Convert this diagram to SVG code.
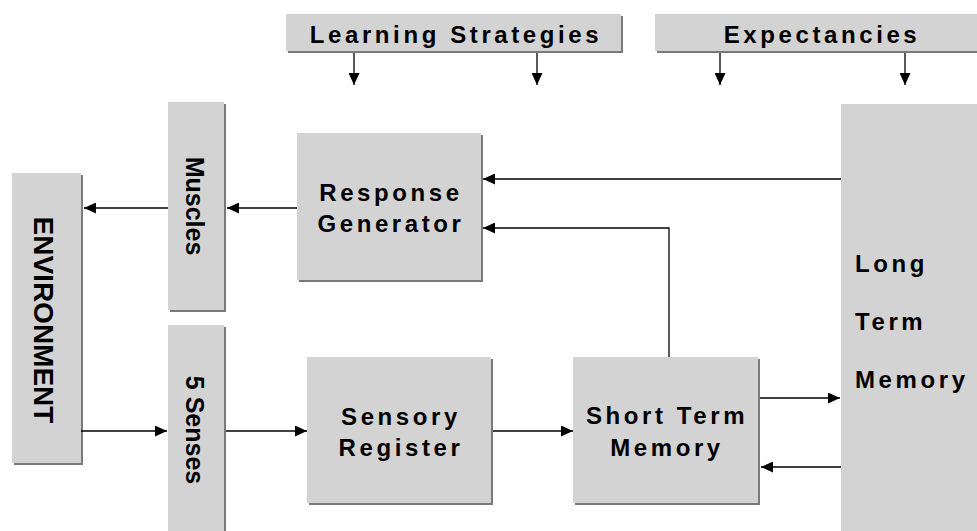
<svg xmlns="http://www.w3.org/2000/svg" width="977" height="531" viewBox="0 0 977 531">
<style>
.box{fill:#d3d3d3}
.sh{fill:#7a7a7a}
.t{font-family:"Liberation Sans",Arial,sans-serif;font-weight:bold;fill:#000}
.s{font-size:24px;letter-spacing:3.6px}
.c{text-anchor:middle}
.v{font-size:25px;text-anchor:middle}
.ln{stroke:#000;stroke-width:1.3;fill:none}
</style>
<defs>
<marker id="ah" markerUnits="userSpaceOnUse" markerWidth="12" markerHeight="11" refX="12" refY="5.5" orient="auto">
<path d="M0,0 L12,5.5 L0,11 z" fill="#000"/>
</marker>
</defs>
<rect width="977" height="531" fill="#fff"/>

<g id="learning-strategies">
<rect class="sh" x="288" y="16" width="335" height="37"/>
<rect class="box" x="286" y="14" width="335" height="37"/>
<text class="t s c" x="456" y="43">Learning Strategies</text>
</g>

<g id="expectancies">
<rect class="sh" x="657" y="16" width="322" height="37"/>
<rect class="box" x="655" y="14" width="322" height="37"/>
<text class="t s c" x="822" y="43">Expectancies</text>
</g>

<g id="environment">
<rect class="sh" x="14" y="175" width="69" height="290"/>
<rect class="box" x="12" y="173" width="69" height="290"/>
<text class="t c" font-size="28" transform="translate(44,320) rotate(90)" y="10">ENVIRONMENT</text>
</g>

<g id="muscles">
<rect class="sh" x="170" y="104" width="56" height="208"/>
<rect class="box" x="168" y="102" width="56" height="208"/>
<text class="t v" transform="translate(195,206) rotate(90)" y="9">Muscles</text>
</g>

<g id="five-senses">
<rect class="sh" x="170" y="327" width="56" height="210"/>
<rect class="box" x="168" y="325" width="56" height="210"/>
<text class="t v" transform="translate(195,430) rotate(90)" y="9">5 Senses</text>
</g>

<g id="response-generator">
<rect class="sh" x="299" y="135" width="184" height="147"/>
<rect class="box" x="297" y="133" width="184" height="147"/>
<text class="t s c" x="391" y="201">Response</text>
<text class="t s c" x="391" y="232">Generator</text>
</g>

<g id="sensory-register">
<rect class="sh" x="309" y="359" width="184" height="146"/>
<rect class="box" x="307" y="357" width="184" height="146"/>
<text class="t s c" x="401" y="425">Sensory</text>
<text class="t s c" x="401" y="456">Register</text>
</g>

<g id="short-term-memory">
<rect class="sh" x="575" y="359" width="185" height="146"/>
<rect class="box" x="573" y="357" width="185" height="146"/>
<text class="t s c" x="667" y="424">Short Term</text>
<text class="t s c" x="667" y="456">Memory</text>
</g>

<g id="long-term-memory">
<rect class="box" x="841" y="104" width="140" height="430"/>
<text class="t s" x="855" y="272">Long</text>
<text class="t s" x="855" y="330">Term</text>
<text class="t s" x="855" y="388">Memory</text>
</g>

<g id="connectors" class="ln" marker-end="url(#ah)">
<line x1="354" y1="53" x2="354" y2="85"/>
<line x1="537" y1="53" x2="537" y2="85"/>
<line x1="720" y1="53" x2="720" y2="85"/>
<line x1="905" y1="53" x2="905" y2="85"/>
<line x1="168" y1="208" x2="84" y2="208"/>
<line x1="297" y1="208" x2="227" y2="208"/>
<line x1="841" y1="179" x2="483" y2="179"/>
<polyline points="669,357 669,228 483,228"/>
<line x1="81" y1="431" x2="167" y2="431"/>
<line x1="226" y1="431" x2="307" y2="431"/>
<line x1="493" y1="431" x2="573" y2="431"/>
<line x1="760" y1="398" x2="840" y2="398"/>
<line x1="841" y1="467" x2="761" y2="467"/>
</g>
</svg>
